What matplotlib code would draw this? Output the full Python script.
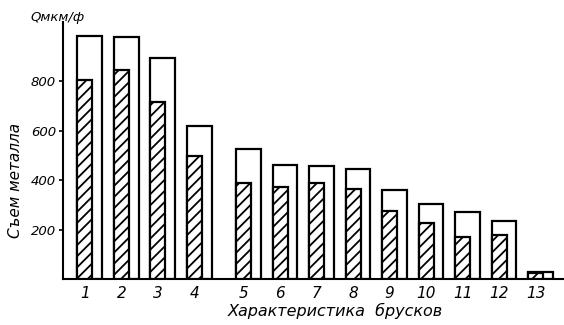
import numpy as np
import matplotlib
matplotlib.use("Agg")
import matplotlib.pyplot as plt

categories = ["1", "2", "3", "4", "5", "6", "7", "8", "9", "10", "11", "12", "13"]
total_removal = [985, 980, 893, 621, 528, 463, 459, 447, 361, 305, 272, 235, 30]
hatched_removal = [804, 844, 715, 499, 390, 374, 390, 365, 276, 227, 171, 179, 25]
yticks = [200, 400, 600, 800]

plt.rcParams['font.family'] = ['Liberation Sans Narrow', 'DejaVu Sans']
plt.rcParams['hatch.linewidth'] = 1.3

fig = plt.figure(figsize=(5.64, 3.25), dpi=100)
ax = fig.add_axes([63/564, 1 - 279/325, (563 - 63)/564, (279 - 22)/325])

idx = np.arange(len(categories))
pos = idx + np.where(idx >= 4, 0.35, 0.0)
hw = 0.41
ww = 0.68

ax.bar(pos - hw/2, total_removal, width=ww, align='edge', facecolor='white',
       edgecolor='black', linewidth=1.6, zorder=2)
ax.bar(pos - hw/2, hatched_removal, width=hw, align='edge', facecolor='white',
       edgecolor='black', linewidth=1.6, hatch='///', zorder=3)

ax.set_xlim(pos[0] - 0.6, pos[-1] + 0.75)
ax.set_ylim(0, 1040)

for s in ['top', 'right']:
    ax.spines[s].set_visible(False)
ax.spines['left'].set_linewidth(1.5)
ax.spines['bottom'].set_linewidth(1.5)

ax.set_xticks(pos)
ax.set_xticklabels(categories, fontstyle='italic', fontsize=11)
ax.tick_params(axis='x', length=0, pad=5)
ax.set_yticks(yticks)
ax.set_yticklabels([str(v) for v in yticks], fontstyle='italic', fontsize=9.5)
ax.tick_params(axis='y', length=3, width=1.2, pad=2)

ax.set_xlabel("Характеристика  брусков", fontstyle='italic', fontsize=11.5)
ax.xaxis.set_label_coords((335 - 63) / 500, -(311 - 279) / 257, transform=ax.transAxes)
ax.xaxis.label.set_va('center')
ax.set_ylabel("Съем металла", fontstyle='italic', fontsize=11)
ax.yaxis.set_label_coords(-(63 - 16) / 500, (279 - 180) / 257, transform=ax.transAxes)
ax.yaxis.label.set_va('center')
fig.text(30/564, 1 - 17/325, "Qмкм/ф", fontstyle='italic', fontsize=9.5, va='center', ha='left')

fig.savefig("out.png", dpi=100)
